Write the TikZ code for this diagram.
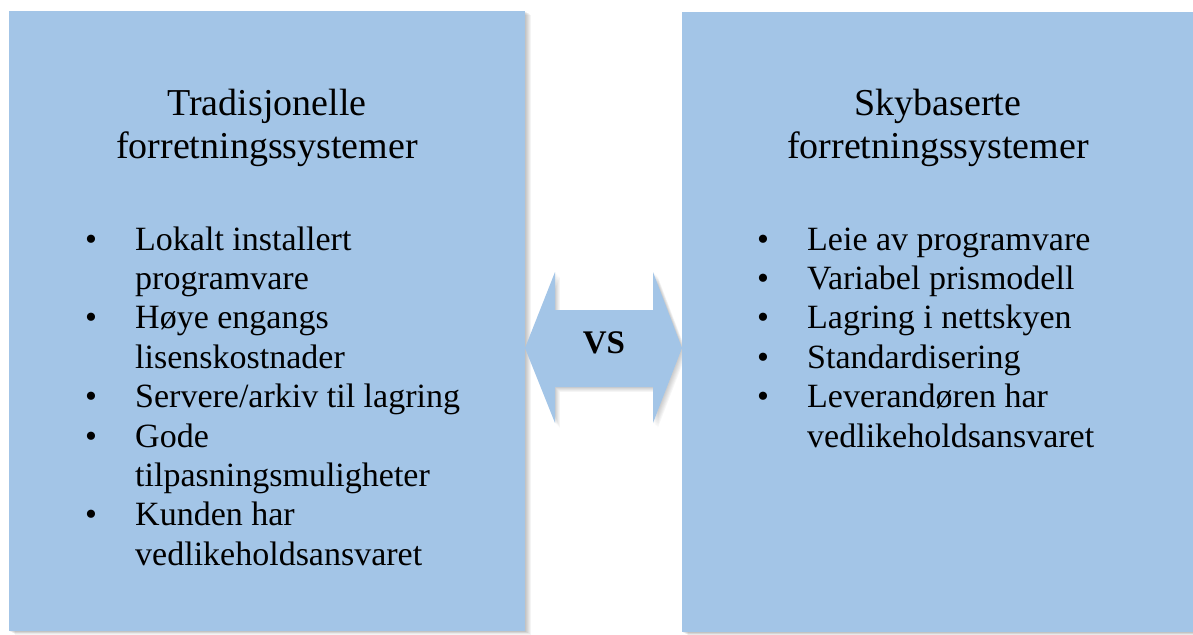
\documentclass[tikz,border=0pt]{standalone}
\usepackage{fontspec}
\setmainfont{Liberation Serif}
\definecolor{boxblue}{RGB}{163,197,231}
\tikzset{
  panel/.style={fill=boxblue, draw=none, rectangle, inner sep=0pt, anchor=north west},
  title/.style={anchor=base, inner sep=0pt, font=\fontsize{38}{43}\selectfont},
  item/.style={anchor=base west, inner sep=0pt, font=\fontsize{34}{39}\selectfont},
  bul/.style={anchor=base, inner sep=0pt, font=\fontsize{34}{39}\selectfont},
  vs/.style={inner sep=0pt, font=\fontsize{33}{38}\selectfont\bfseries}
}
\begin{document}
\begin{tikzpicture}[x=1pt,y=-1pt]
\useasboundingbox (0,0) rectangle (1193,634);
% shadows
\foreach \d in {1,2,3,4,5,6}{
  \fill[black,opacity=0.045] (9+\d,11+\d*0.6) rectangle (525+\d,631+\d*0.6);
  \fill[black,opacity=0.045] (682+\d,12+\d*0.6) rectangle (1200,632+\d*0.6);
  \fill[black,opacity=0.035,shift={(\d*0.8,\d*0.8)}] (525,348) -- (555,272) -- (555,310) -- (653,310) -- (653,272) -- (682,348) -- (653,423) -- (653,387) -- (555,387) -- (555,423) -- cycle;
}
\node[panel, minimum width=516pt, minimum height=620pt] (left) at (9,11) {};
\node[panel, minimum width=515pt, minimum height=620pt] (right) at (682,12) {};
% double arrow
\fill[boxblue] (525,348) -- (555,272) -- (555,310) -- (653,310) -- (653,272) -- (682,348) -- (653,423) -- (653,387) -- (555,387) -- (555,423) -- cycle;
\node[vs] (vs) at (604,343) {VS};
% titles
\node[title] (lt1) at (267,115) {Tradisjonelle};
\node[title] (lt2) at (267,158) {forretningssystemer};
\node[title] (rt1) at (938,115) {Skybaserte};
\node[title] (rt2) at (938,158) {forretningssystemer};
% left list
\foreach \i/\txt in {0/Lokalt installert,1/programvare,2/Høye engangs,3/lisenskostnader,4/Servere\slash arkiv til lagring,5/Gode,6/tilpasningsmuligheter,7/Kunden har,8/vedlikeholdsansvaret}{
  \node[item] (l\i) at (135,250+39.4*\i) {\txt};
}
\foreach \i in {0,2,4,5,7}{
  \node[bul] (lb\i) at (91,250+39.4*\i) {•};
}
% right list
\foreach \i/\txt in {0/Leie av programvare,1/Variabel prismodell,2/Lagring i nettskyen,3/Standardisering,4/Leverandøren har,5/vedlikeholdsansvaret}{
  \node[item] (r\i) at (807,250+39.4*\i) {\txt};
}
\foreach \i in {0,1,2,3,4}{
  \node[bul] (rb\i) at (763,250+39.4*\i) {•};
}
\end{tikzpicture}
\end{document}
